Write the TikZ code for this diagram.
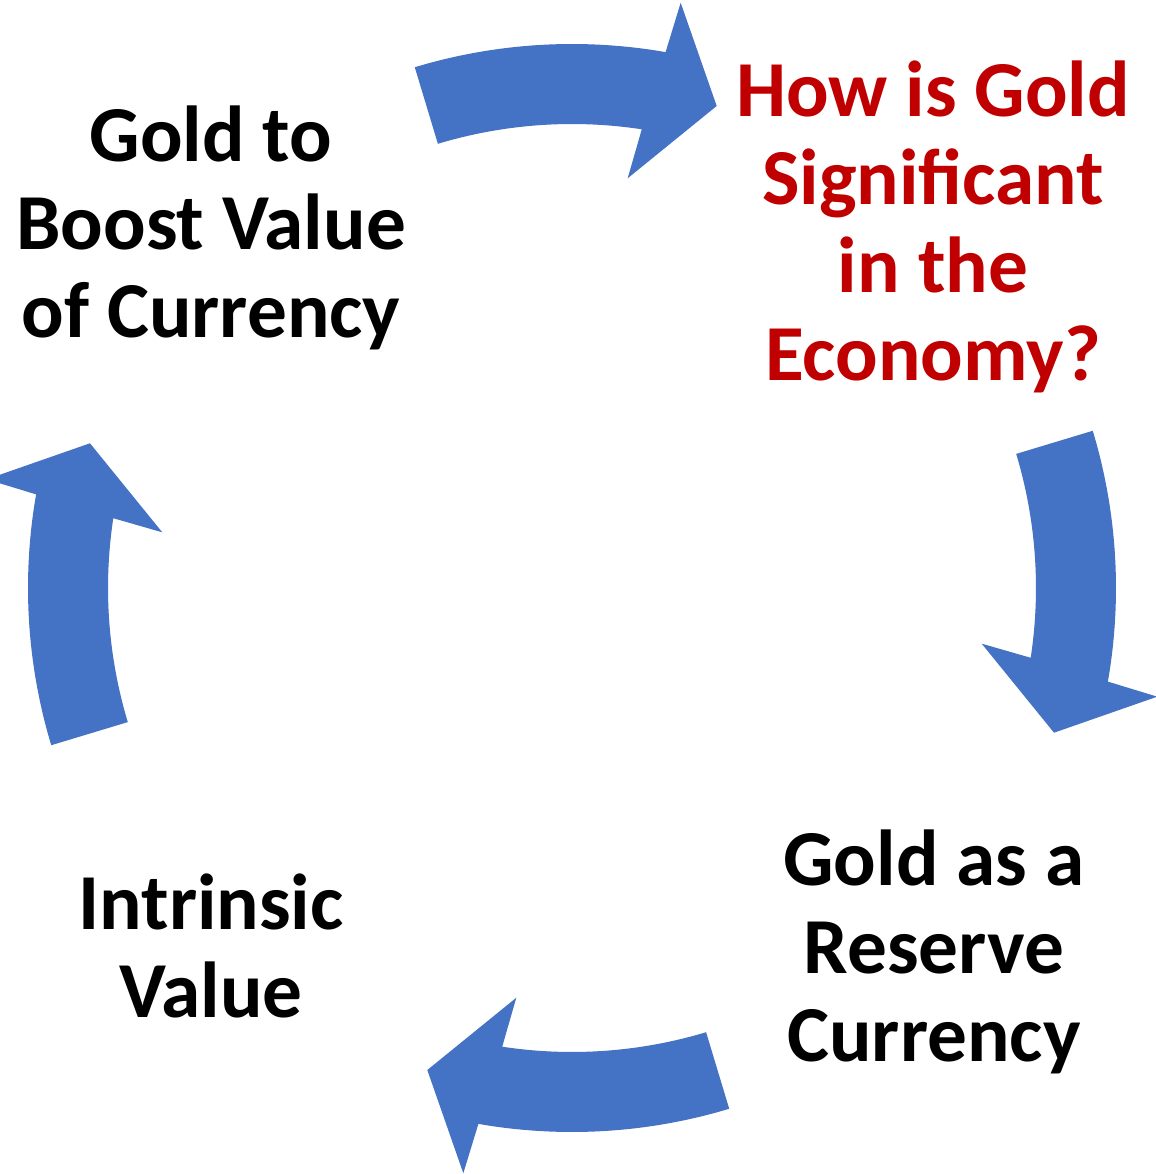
\documentclass[tikz,border=0pt]{standalone}
\usepackage{fontspec}
\setmainfont{Carlito}
\definecolor{arrowblue}{HTML}{4472C4}
\definecolor{darkred}{HTML}{C00000}
\begin{document}
\begin{tikzpicture}[x=0.75pt,y=0.75pt,
  cyclearrow/.style={fill=arrowblue,draw=none},
  label/.style={font=\bfseries\fontsize{59.5}{66}\selectfont,align=center,inner sep=0pt,anchor=base}]
\useasboundingbox (-572,-586) rectangle (584,588);
\foreach \k in {0,1,2,3}{
  \begin{scope}[rotate=-90*\k]
    \fill[cyclearrow] (106.8:544) arc[start angle=106.8,end angle=80.09,radius=544]
      -- (79.48:595.3) -- (73.29:503.3) -- (82.26:413.5) -- (81.35:464)
      arc[start angle=81.35,end angle=106.8,radius=464] -- cycle;
  \end{scope}
}
\node[label] (boost) at (-361,250) {Gold to\\Boost Value\\of Currency};
\node[label,text=darkred] (how) at (361,207) {How is Gold\\Significant\\in the\\Economy?};
\node[label] (reserve) at (362,-473) {Gold as a\\Reserve\\Currency};
\node[label] (intrinsic) at (-361,-429) {Intrinsic\\Value};
\end{tikzpicture}
\end{document}
